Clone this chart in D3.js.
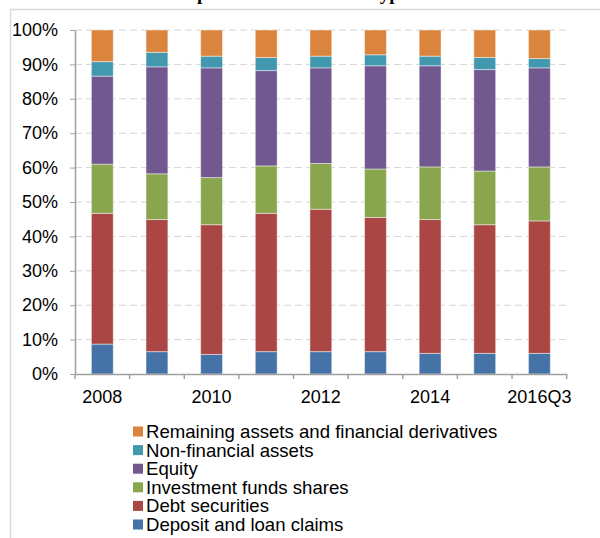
<!DOCTYPE html>
<html>
<head>
<meta charset="utf-8">
<style>
  body { margin: 0; background: #fff; }
  text { font-family: "Liberation Sans", Arial, sans-serif; fill: #000; }
  .axis path, .axis line { stroke: #a0a0a0; }
  .grid line { stroke: #d4d4d4; stroke-dasharray: 7,4; }
</style>
</head>
<body>
<script src="https://cdn.jsdelivr.net/npm/d3@7"></script>
<script>
// data (shares in %)
var years = ["2008", "2009", "2010", "2011", "2012", "2013", "2014", "2015", "2016Q3"];
var deposit   = [8.7, 6.5, 5.7, 6.5, 6.5, 6.5, 6.0, 6.0, 6.0];
var debt      = [38.0, 38.4, 37.7, 40.2, 41.4, 39.0, 38.9, 37.4, 38.5];
var funds     = [14.3, 13.3, 13.7, 13.8, 13.3, 14.1, 15.3, 15.6, 15.7];
var equity    = [25.6, 31.1, 31.9, 27.7, 27.8, 30.0, 29.4, 29.5, 28.8];
var nonFin    = [4.2, 4.2, 3.4, 3.8, 3.4, 3.2, 2.8, 3.5, 2.7];
var remaining = [9.2, 6.5, 7.6, 8.0, 7.6, 7.2, 7.6, 8.0, 8.3];
var seriesNames = ["Deposit and loan claims", "Debt securities", "Investment funds shares",
                   "Equity", "Non-financial assets", "Remaining assets and financial derivatives"];
var seriesValues = [deposit, debt, funds, equity, nonFin, remaining];
var colours = ["#4572A7", "#AA4643", "#89A54E", "#71588F", "#4198AF", "#DB843D"];
var yTicks = [0, 0.1, 0.2, 0.3, 0.4, 0.5, 0.6, 0.7, 0.8, 0.9, 1];
var labelledYears = ["2008", "2010", "2012", "2014", "2016Q3"];

var W = 600, H = 538;
var svg = d3.select("body").append("svg").attr("width", W).attr("height", H);

// frame of the chart area (only top and left edges visible)
svg.append("line").attr("x1", 10).attr("x2", W).attr("y1", 9.5).attr("y2", 9.5)
    .attr("stroke", "#d9d9d9").attr("stroke-width", 1.5);
svg.append("line").attr("x1", 10.5).attr("x2", 10.5).attr("y1", 9).attr("y2", H)
    .attr("stroke", "#d9d9d9").attr("stroke-width", 1.5);

// title, cut off at the top of the picture
svg.append("text").attr("x", 158).attr("y", 0)
    .style("font-family", "'Liberation Serif', 'Times New Roman', serif")
    .style("font-weight", "bold").style("font-size", "19px")
    .text("Composition of assets and type");

var plotLeft = 75, plotRight = 566.7, plotTop = 30, plotBottom = 374;

var x = d3.scaleBand().domain(years).range([plotLeft, plotRight])
    .paddingInner(0.6).paddingOuter(0.3);
var y = d3.scaleLinear().domain([0, 1]).range([plotBottom, plotTop]);

// gridlines
svg.append("g").attr("class", "grid")
    .selectAll("line").data(yTicks.slice(1)).enter().append("line")
    .attr("x1", plotLeft).attr("x2", plotRight)
    .attr("y1", function(d) { return y(d); })
    .attr("y2", function(d) { return y(d); });

var rows = years.map(function(yr, i) {
    var r = { year: yr };
    seriesNames.forEach(function(s, j) { r[s] = seriesValues[j][i]; });
    return r;
});

var stack = d3.stack().keys(seriesNames).offset(d3.stackOffsetExpand);
var layers = stack(rows);

svg.append("g").selectAll("g").data(layers).enter().append("g")
    .attr("fill", function(d, i) { return colours[i]; })
    .selectAll("rect").data(function(d) { return d; }).enter().append("rect")
    .attr("x", function(d) { return x(d.data.year); })
    .attr("width", x.bandwidth())
    .attr("y", function(d) { return y(d[1]); })
    .attr("height", function(d) { return y(d[0]) - y(d[1]); })
    .attr("stroke", "rgba(255,255,255,0.45)")
    .attr("stroke-width", 1);

// y axis
var yAxis = svg.append("g").attr("class", "axis")
    .attr("transform", "translate(" + plotLeft + ",0)")
    .call(d3.axisLeft(y).tickValues(yTicks).tickFormat(d3.format(".0%"))
        .tickSize(5).tickPadding(12).tickSizeOuter(0));
yAxis.selectAll("text").style("font-size", "18px").attr("fill", "#000");
yAxis.select(".domain").attr("stroke-width", 1.5);

// x axis: line, boundary ticks, labels on every other year
var xAxis = svg.append("g").attr("class", "axis")
    .attr("transform", "translate(0," + plotBottom + ")")
    .call(d3.axisBottom(x).tickSize(0).tickPadding(16).tickSizeOuter(0)
        .tickFormat(function(d) { return labelledYears.indexOf(d) >= 0 ? d : ""; }));
xAxis.selectAll("text").style("font-size", "18px").attr("fill", "#000");
xAxis.select(".domain").attr("stroke-width", 1.5);

var step = x.step();
var bounds = d3.range(years.length + 1).map(function(i) { return plotLeft + i * step; });
xAxis.selectAll(".bound").data(bounds).enter().append("line")
    .attr("class", "bound")
    .attr("x1", function(d) { return d; }).attr("x2", function(d) { return d; })
    .attr("y1", 0).attr("y2", 5)
    .attr("stroke", "#a0a0a0").attr("stroke-width", 1.5);

// legend, top to bottom reversed
var legendOrder = seriesNames.slice().reverse();
var legend = svg.append("g").selectAll("g").data(legendOrder).enter().append("g")
    .attr("transform", function(d, i) { return "translate(133," + (431.5 + i * 18.6) + ")"; });
legend.append("rect").attr("x", 0).attr("y", -5).attr("width", 10).attr("height", 10)
    .attr("fill", function(d) { return colours[seriesNames.indexOf(d)]; });
legend.append("text").attr("x", 13).attr("dy", "0.35em")
    .style("font-size", "18.6px")
    .text(function(d) { return d; });
</script>
</body>
</html>
